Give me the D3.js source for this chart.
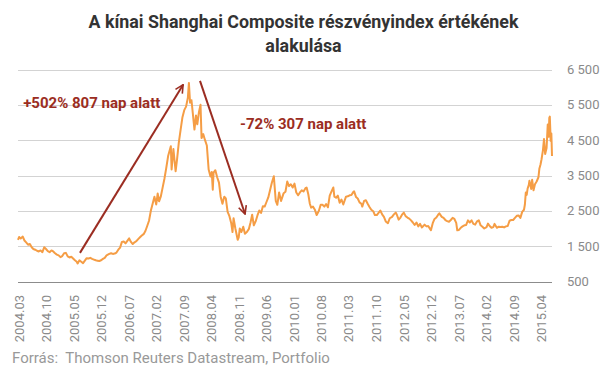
<!DOCTYPE html>
<html>
<head>
<meta charset="utf-8">
<script src="https://cdn.jsdelivr.net/npm/d3@7"></script>
<style>
  html, body { margin: 0; padding: 0; background: #fff; }
  svg { display: block; font-family: Roboto, "Noto Sans", sans-serif; }
</style>
</head>
<body>
<div id="chart"></div>
<script>
// Shanghai Composite, closes (a few points per month)
const y2004 = [["2004-03-01",1680],["2004-03-10",1760],["2004-03-22",1720],["2004-04-07",1770],["2004-04-20",1660],["2004-05-05",1600],["2004-05-18",1540],["2004-06-01",1560],["2004-06-15",1470],["2004-06-28",1420],["2004-07-12",1400],["2004-07-26",1370],["2004-08-09",1350],["2004-08-23",1380],["2004-09-06",1330],["2004-09-20",1470],["2004-10-04",1420],["2004-10-18",1360],["2004-11-01",1330],["2004-11-15",1380],["2004-11-29",1350],["2004-12-13",1300],["2004-12-27",1260]];
const y2005 = [["2005-01-10",1240],["2005-01-24",1190],["2005-02-07",1220],["2005-02-21",1300],["2005-03-07",1310],["2005-03-21",1210],["2005-04-04",1180],["2005-04-18",1200],["2005-05-02",1150],["2005-05-16",1100],["2005-05-30",1060],["2005-06-06",1010],["2005-06-20",1100],["2005-07-04",1060],["2005-07-18",1020],["2005-08-01",1090],["2005-08-15",1160],["2005-08-29",1150],["2005-09-12",1170],["2005-09-26",1140],["2005-10-10",1120],["2005-10-24",1100],["2005-11-07",1090],["2005-11-21",1080],["2005-12-05",1100],["2005-12-19",1140]];
const y2006 = [["2006-01-02",1170],["2006-01-16",1240],["2006-02-06",1280],["2006-02-20",1300],["2006-03-06",1280],["2006-03-20",1290],["2006-04-03",1320],["2006-04-17",1400],["2006-05-01",1460],["2006-05-15",1620],["2006-05-29",1630],["2006-06-12",1580],["2006-06-26",1650],["2006-07-10",1720],["2006-07-24",1620],["2006-08-07",1560],["2006-08-21",1610],["2006-09-04",1640],["2006-09-18",1700],["2006-10-02",1750],["2006-10-16",1800],["2006-10-30",1840],["2006-11-13",1930],["2006-11-27",2070],["2006-12-11",2220],["2006-12-25",2500]];
const y2007 = [["2007-01-08",2700],["2007-01-22",2900],["2007-02-05",2680],["2007-02-16",2990],["2007-02-27",2770],["2007-03-12",2900],["2007-03-26",3150],["2007-04-09",3400],["2007-04-23",3700],["2007-05-08",4050],["2007-05-29",4330],["2007-06-04",3670],["2007-06-18",4250],["2007-07-05",3620],["2007-07-16",3950],["2007-07-30",4440],["2007-08-13",4800],["2007-08-27",5150],["2007-09-10",5350],["2007-09-24",5450],["2007-10-08",5700],["2007-10-16",6120],["2007-10-25",5560],["2007-11-05",5630],["2007-11-15",5270],["2007-11-28",4800],["2007-12-10",5200],["2007-12-20",4950]];
const y2008 = [["2008-01-02",5300],["2008-01-14",5500],["2008-01-22",4560],["2008-02-04",4670],["2008-02-18",4500],["2008-03-03",4350],["2008-03-17",3670],["2008-03-31",3470],["2008-04-10",3600],["2008-04-18",3100],["2008-04-24",3580],["2008-05-08",3650],["2008-05-22",3450],["2008-06-05",3300],["2008-06-18",2900],["2008-07-02",2700],["2008-07-16",2900],["2008-07-28",2850],["2008-08-11",2470],["2008-08-25",2350],["2008-09-08",2150],["2008-09-18",1900],["2008-09-26",2290],["2008-10-10",2000],["2008-10-28",1680],["2008-11-05",1750],["2008-11-13",2000],["2008-11-26",1900],["2008-12-10",2050],["2008-12-23",1850]];
const y2009 = [["2009-01-07",1900],["2009-01-23",1990],["2009-02-05",2180],["2009-02-17",2390],["2009-03-02",2090],["2009-03-16",2200],["2009-03-30",2370],["2009-04-13",2510],["2009-04-27",2440],["2009-05-11",2630],["2009-05-25",2620],["2009-06-08",2750],["2009-06-22",2880],["2009-07-06",3090],["2009-07-20",3300],["2009-08-04",3478],["2009-08-12",3100],["2009-08-19",2780],["2009-08-31",2670],["2009-09-14",3020],["2009-09-29",2780],["2009-10-19",3000],["2009-11-02",3040],["2009-11-16",3330],["2009-11-30",3200],["2009-12-14",3250],["2009-12-28",3160]];
const y2010 = [["2010-01-11",3270],["2010-01-25",3020],["2010-02-08",2940],["2010-02-22",3020],["2010-03-08",3080],["2010-03-22",3050],["2010-04-06",3140],["2010-04-15",3160],["2010-04-28",2970],["2010-05-10",2700],["2010-05-20",2590],["2010-06-03",2620],["2010-06-17",2540],["2010-07-02",2380],["2010-07-19",2500],["2010-08-02",2670],["2010-08-16",2670],["2010-08-30",2620],["2010-09-13",2690],["2010-09-27",2600],["2010-10-11",2930],["2010-10-25",3050],["2010-11-08",3160],["2010-11-16",2900],["2010-11-29",2870],["2010-12-13",2930],["2010-12-27",2730]];
const y2011 = [["2011-01-10",2820],["2011-01-24",2680],["2011-02-14",2900],["2011-02-28",2910],["2011-03-14",2940],["2011-03-28",2950],["2011-04-11",3030],["2011-04-18",3050],["2011-05-03",2890],["2011-05-16",2850],["2011-05-30",2740],["2011-06-13",2700],["2011-06-20",2620],["2011-07-04",2780],["2011-07-18",2800],["2011-08-01",2700],["2011-08-15",2610],["2011-08-29",2530],["2011-09-13",2490],["2011-09-26",2380],["2011-10-11",2380],["2011-10-24",2440],["2011-11-07",2510],["2011-11-21",2400],["2011-12-05",2330],["2011-12-19",2200]];
const y2012 = [["2012-01-05",2150],["2012-01-19",2290],["2012-02-06",2330],["2012-02-20",2400],["2012-03-05",2450],["2012-03-14",2390],["2012-03-28",2250],["2012-04-11",2310],["2012-04-25",2400],["2012-05-07",2450],["2012-05-21",2350],["2012-06-04",2310],["2012-06-18",2280],["2012-07-02",2230],["2012-07-16",2170],["2012-07-30",2100],["2012-08-13",2170],["2012-08-27",2060],["2012-09-10",2130],["2012-09-24",2030],["2012-10-15",2110],["2012-10-29",2060],["2012-11-12",2070],["2012-11-26",1990],["2012-12-03",1950],["2012-12-17",2150],["2012-12-31",2270]];
const y2013 = [["2013-01-14",2310],["2013-01-28",2390],["2013-02-06",2430],["2013-02-25",2330],["2013-03-11",2300],["2013-03-25",2240],["2013-04-08",2210],["2013-04-22",2190],["2013-05-06",2240],["2013-05-20",2300],["2013-06-03",2270],["2013-06-17",2160],["2013-06-25",1950],["2013-07-08",1960],["2013-07-22",2020],["2013-08-05",2060],["2013-08-19",2090],["2013-09-02",2100],["2013-09-16",2230],["2013-09-30",2170],["2013-10-14",2230],["2013-10-28",2130],["2013-11-11",2110],["2013-11-25",2200],["2013-12-09",2230],["2013-12-23",2090]];
const y2014 = [["2014-01-06",2050],["2014-01-20",2000],["2014-02-07",2040],["2014-02-18",2140],["2014-03-03",2070],["2014-03-17",2020],["2014-03-31",2040],["2014-04-10",2130],["2014-04-28",2020],["2014-05-12",2050],["2014-05-26",2040],["2014-06-09",2050],["2014-06-23",2030],["2014-07-07",2060],["2014-07-21",2070],["2014-08-04",2220],["2014-08-18",2240],["2014-09-01",2240],["2014-09-15",2300],["2014-09-29",2360],["2014-10-13",2370],["2014-10-27",2300],["2014-11-10",2470],["2014-11-24",2530],["2014-12-01",2680],["2014-12-08",3020],["2014-12-15",2950],["2014-12-22",3130],["2014-12-31",3230]];
const y2015 = [["2015-01-05",3350],["2015-01-12",3230],["2015-01-19",3120],["2015-01-26",3380],["2015-02-06",3080],["2015-02-17",3250],["2015-03-02",3330],["2015-03-16",3450],["2015-03-23",3690],["2015-04-01",3810],["2015-04-09",3960],["2015-04-20",4220],["2015-04-28",4530],["2015-05-07",4110],["2015-05-18",4280],["2015-05-27",4940],["2015-06-04",4600],["2015-06-08",5130],["2015-06-12",5166],["2015-06-19",4480],["2015-06-24",4690],["2015-06-29",4050]];

const xTickLabels = ["2004.03","2004.10","2005.05","2005.12","2006.07","2007.02","2007.09","2008.04","2008.11","2009.06","2010.01","2010.08","2011.03","2011.10","2012.05","2012.12","2013.07","2014.02","2014.09","2015.04"];
const yTicks = [500, 1500, 2500, 3500, 4500, 5500, 6500];

const titleLines = ["A kínai Shanghai Composite részvényindex értékének", "alakulása"];
const source = "Forrás:  Thomson Reuters Datastream, Portfolio";

// annotations: arrow ends in data coordinates
const annotations = [
  { label: "+502% 807 nap alatt", from: ["2005-06-24", 1310], to: ["2007-09-01", 6070], text: ["2004-04-10", 5400] },
  { label: "-72% 307 nap alatt", from: ["2008-01-10", 6180], to: ["2008-12-24", 2410], text: ["2008-11-15", 4830] }
];

function main() {
  const width = 607, height = 380;
  const parse = d3.timeParse("%Y-%m-%d");
  const parseTick = d3.timeParse("%Y.%m");

  const data = [].concat(y2004, y2005, y2006, y2007, y2008, y2009, y2010, y2011, y2012, y2013, y2014, y2015)
    .map(d => ({ date: parse(d[0]), value: d[1] }));

  const x = d3.scaleTime()
    .domain([parse("2004-03-01"), parse("2015-06-29")])
    .range([18, 552]);
  const y = d3.scaleLinear().domain([500, 6500]).range([281.5, 69.5]);

  const locale = d3.formatLocale({ decimal: ",", thousands: " ", grouping: [3], currency: ["", ""] });
  const fmt = locale.format(",");

  const svg = d3.select("#chart").append("svg")
    .attr("width", width)
    .attr("height", height);

  svg.append("defs").append("marker")
    .attr("id", "head")
    .attr("viewBox", "0 0 10 10")
    .attr("refX", 9)
    .attr("refY", 5)
    .attr("markerWidth", 5)
    .attr("markerHeight", 5)
    .attr("markerUnits", "strokeWidth")
    .attr("orient", "auto")
    .append("path")
    .attr("d", "M1,1 L9,5 L1,9")
    .attr("fill", "none")
    .attr("stroke", "#9b2d22")
    .attr("stroke-width", 1.6);

  // gridlines + y labels
  const grid = svg.append("g");
  grid.selectAll("line")
    .data(yTicks)
    .join("line")
    .attr("x1", x.range()[0])
    .attr("x2", x.range()[1])
    .attr("y1", d => Math.round(y(d)) + 0.5)
    .attr("y2", d => Math.round(y(d)) + 0.5)
    .attr("stroke", d => d === 500 ? "#8c8c8c" : "#d3d3d3")
    .attr("stroke-width", 1);

  grid.selectAll("text")
    .data(yTicks)
    .join("text")
    .attr("x", 567)
    .attr("y", d => y(d))
    .attr("dy", "0.35em")
    .attr("fill", "#8a8a8a")
    .attr("font-size", 13)
    .text(d => fmt(d));

  // x labels, rotated
  svg.append("g").selectAll("text")
    .data(xTickLabels)
    .join("text")
    .attr("transform", d => `translate(${x(parseTick(d)) + 1},295) rotate(-90)`)
    .attr("text-anchor", "end")
    .attr("dy", "0.35em")
    .attr("fill", "#8a8a8a")
    .attr("font-size", 13)
    .text(d => d);

  // the index line
  const line = d3.line()
    .x(d => x(d.date))
    .y(d => y(d.value));

  svg.append("path")
    .datum(data)
    .attr("d", line)
    .attr("fill", "none")
    .attr("stroke", "#f59d45")
    .attr("stroke-width", 2)
    .attr("stroke-linejoin", "round");

  // arrows and their labels
  for (let a of annotations) {
    svg.append("line")
      .attr("x1", x(parse(a.from[0])))
      .attr("y1", y(a.from[1]))
      .attr("x2", x(parse(a.to[0])))
      .attr("y2", y(a.to[1]))
      .attr("stroke", "#9b2d22")
      .attr("stroke-width", 2)
      .attr("marker-end", "url(#head)");

    svg.append("text")
      .attr("x", x(parse(a.text[0])))
      .attr("y", y(a.text[1]))
      .attr("fill", "#9b2d22")
      .attr("font-size", 15)
      .attr("font-weight", "bold")
      .text(a.label);
  }

  // title, squeezed a little like a condensed face
  const title = svg.append("g");
  const t1 = title.append("text")
    .attr("x", width / 2)
    .attr("y", 28)
    .attr("text-anchor", "middle")
    .attr("font-size", 18)
    .attr("font-weight", "bold")
    .attr("fill", "#333")
    .text(titleLines[0]);
  const squeeze = 430 / t1.node().getComputedTextLength();
  t1.attr("textLength", 430).attr("lengthAdjust", "spacingAndGlyphs");

  const t2 = title.append("text")
    .attr("x", width / 2)
    .attr("y", 52)
    .attr("text-anchor", "middle")
    .attr("font-size", 18)
    .attr("font-weight", "bold")
    .attr("fill", "#333")
    .text(titleLines[1]);
  t2.attr("textLength", t2.node().getComputedTextLength() * squeeze)
    .attr("lengthAdjust", "spacingAndGlyphs");

  svg.append("text")
    .attr("x", 12)
    .attr("y", 363)
    .attr("fill", "#999")
    .attr("font-size", 15)
    .style("white-space", "pre")
    .text(source);
}

main();
</script>
</body>
</html>
